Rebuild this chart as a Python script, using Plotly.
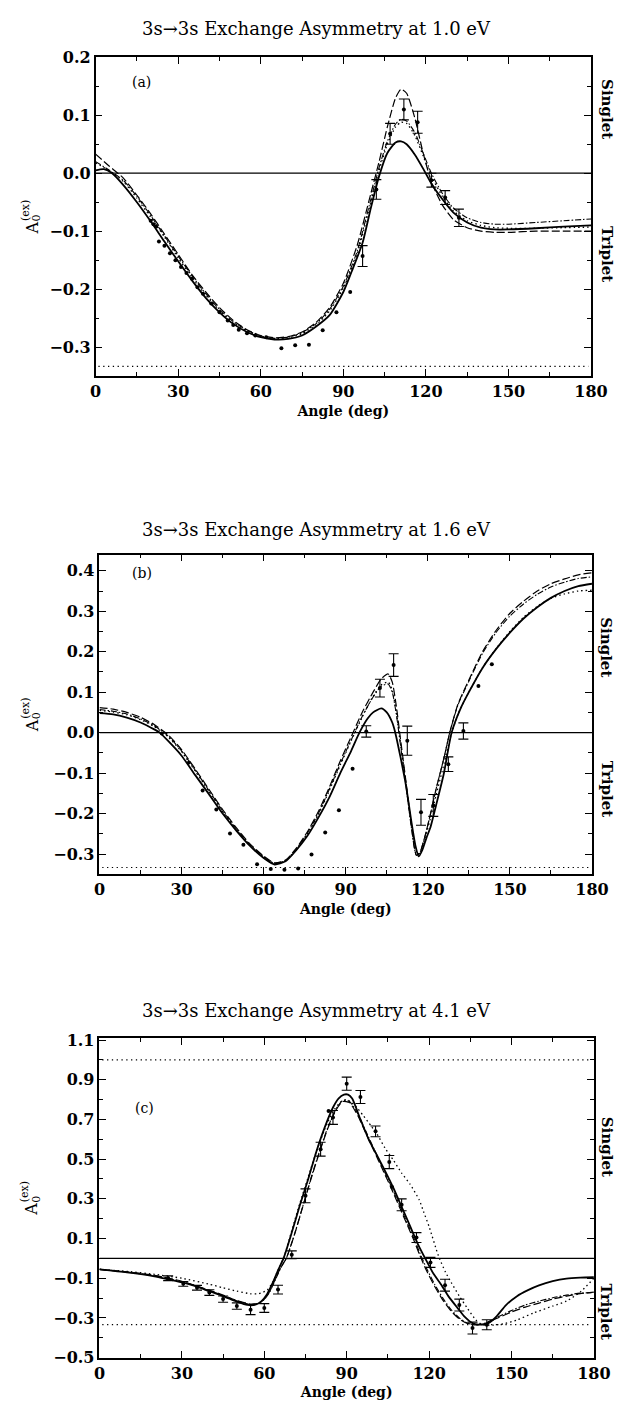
import plotly.graph_objects as go

W, H = 635, 1418
FONT = "DejaVu Serif"

# ---------------- Panel (a): 1.0 eV ----------------
a_solid_x = [0, 3, 6, 10, 15, 20, 25, 30, 35, 40, 45, 50, 55, 60, 65, 70, 75, 80, 85, 90, 93, 97, 100, 103, 106, 109, 111, 113, 116, 119, 122, 126, 130, 135, 140, 145, 150, 160, 170, 180]
a_solid_y = [0.005, 0.007, 0.0, -0.02, -0.05, -0.083, -0.118, -0.152, -0.185, -0.215, -0.24, -0.26, -0.274, -0.283, -0.287, -0.286, -0.28, -0.265, -0.245, -0.205, -0.17, -0.12, -0.06, -0.005, 0.035, 0.053, 0.055, 0.05, 0.032, 0.008, -0.018, -0.045, -0.068, -0.085, -0.094, -0.097, -0.097, -0.095, -0.092, -0.09]
a_dash_x = [0, 5, 10, 15, 20, 25, 30, 35, 40, 45, 50, 55, 60, 65, 70, 75, 80, 85, 90, 95, 100, 103, 106, 109, 111, 113, 116, 119, 122, 126, 130, 135, 140, 145, 150, 160, 170, 180]
a_dash_y = [0.033, 0.012, -0.008, -0.038, -0.07, -0.105, -0.14, -0.175, -0.205, -0.232, -0.254, -0.27, -0.28, -0.284, -0.282, -0.274, -0.258, -0.232, -0.19, -0.125, -0.035, 0.02, 0.08, 0.13, 0.145, 0.138, 0.095, 0.035, -0.015, -0.055, -0.08, -0.094, -0.1, -0.102, -0.102, -0.1, -0.1, -0.1]
a_dashdot_x = a_dash_x
a_dashdot_y = [0.02, 0.005, -0.012, -0.04, -0.073, -0.108, -0.143, -0.177, -0.208, -0.235, -0.256, -0.271, -0.281, -0.285, -0.283, -0.275, -0.26, -0.235, -0.195, -0.135, -0.045, 0.01, 0.055, 0.085, 0.093, 0.09, 0.07, 0.035, 0.0, -0.035, -0.06, -0.077, -0.085, -0.088, -0.088, -0.085, -0.082, -0.079]
a_dot_x = a_dash_x
a_dot_y = [0.018, 0.004, -0.014, -0.043, -0.076, -0.11, -0.146, -0.18, -0.21, -0.237, -0.258, -0.272, -0.282, -0.286, -0.284, -0.277, -0.262, -0.238, -0.198, -0.14, -0.05, 0.005, 0.05, 0.08, 0.088, 0.086, 0.065, 0.03, -0.005, -0.04, -0.065, -0.082, -0.09, -0.094, -0.095, -0.095, -0.094, -0.093]
a_pts_x = [20, 21, 22, 23, 25, 27, 29, 31, 33, 35, 37, 39, 42, 45, 48, 50, 52, 55, 58, 62, 67.5, 72.5, 77.5, 82.5, 87.5, 92.5]
a_pts_y = [-0.082, -0.088, -0.092, -0.118, -0.125, -0.138, -0.15, -0.162, -0.172, -0.182, -0.197, -0.208, -0.225, -0.24, -0.254, -0.262, -0.27, -0.276, -0.28, -0.283, -0.302, -0.297, -0.296, -0.271, -0.24, -0.205]
a_err_x = [97, 102, 107, 112, 117, 122, 127, 132]
a_err_y = [-0.143, -0.028, 0.068, 0.11, 0.088, -0.012, -0.042, -0.077]
a_err_e = [0.018, 0.017, 0.018, 0.018, 0.019, 0.012, 0.012, 0.015]

# ---------------- Panel (b): 1.6 eV ----------------
b_solid_x = [0, 5, 10, 15, 20, 22, 25, 30, 35, 40, 45, 50, 55, 60, 64, 68, 72, 76, 80, 84, 88, 92, 95, 98, 100, 103, 105, 107, 108, 110, 112, 114, 115.5, 116.7, 118, 119.5, 121, 123, 125.8, 128.7, 132, 135, 140, 145, 150, 155, 160, 165, 170, 175, 180]
b_solid_y = [0.048, 0.045, 0.037, 0.025, 0.008, 0.0, -0.02, -0.057, -0.105, -0.152, -0.2, -0.242, -0.28, -0.31, -0.326, -0.318, -0.29, -0.255, -0.21, -0.16, -0.1, -0.045, 0.0, 0.035, 0.05, 0.06, 0.05, 0.025, 0.003, -0.06, -0.13, -0.22, -0.28, -0.306, -0.29, -0.26, -0.233, -0.18, -0.103, 0.0, 0.06, 0.1, 0.16, 0.207, 0.247, 0.282, 0.31, 0.333, 0.35, 0.362, 0.368]
b_dash_x = [0, 5, 10, 15, 20, 25, 30, 35, 40, 45, 50, 55, 60, 64, 68, 72, 76, 80, 84, 88, 92, 96, 100, 103, 105.5, 107, 108.5, 110, 112, 114, 115.8, 117, 119, 121, 123, 126, 128, 131, 135, 140, 145, 150, 155, 160, 165, 170, 175, 180]
b_dash_y = [0.062, 0.058, 0.05, 0.038, 0.02, -0.005, -0.042, -0.09, -0.14, -0.19, -0.235, -0.275, -0.305, -0.322, -0.315, -0.285, -0.245, -0.195, -0.135, -0.07, -0.01, 0.05, 0.1, 0.133, 0.145, 0.125, 0.065, -0.015, -0.12, -0.23, -0.303, -0.298, -0.255, -0.2, -0.14, -0.06, 0.0, 0.07, 0.13, 0.2, 0.253, 0.295, 0.325, 0.35, 0.368, 0.38, 0.39, 0.395]
b_dashdot_x = b_dash_x
b_dashdot_y = [0.057, 0.053, 0.046, 0.034, 0.017, -0.008, -0.045, -0.093, -0.143, -0.193, -0.238, -0.277, -0.307, -0.323, -0.316, -0.287, -0.248, -0.2, -0.14, -0.077, -0.018, 0.04, 0.088, 0.115, 0.12, 0.1, 0.045, -0.03, -0.13, -0.235, -0.303, -0.298, -0.256, -0.2, -0.14, -0.06, 0.0, 0.068, 0.127, 0.196, 0.248, 0.288, 0.318, 0.342, 0.36, 0.372, 0.381, 0.385]
b_dot_x = b_dash_x
b_dot_y = [0.055, 0.051, 0.044, 0.032, 0.015, -0.01, -0.047, -0.095, -0.145, -0.195, -0.24, -0.278, -0.308, -0.324, -0.317, -0.289, -0.25, -0.203, -0.143, -0.08, -0.02, 0.038, 0.09, 0.118, 0.125, 0.105, 0.05, -0.025, -0.125, -0.23, -0.3, -0.298, -0.26, -0.21, -0.155, -0.075, -0.018, 0.045, 0.1, 0.16, 0.208, 0.25, 0.285, 0.312, 0.332, 0.343, 0.35, 0.352]
b_pts_x = [22.8, 32.7, 37.7, 42.7, 47.7, 52.6, 57.6, 62.6, 67.6, 72.6, 77.5, 82.5, 87.5, 92.5, 138.5, 143.4]
b_pts_y = [-0.002, -0.074, -0.143, -0.19, -0.249, -0.277, -0.325, -0.337, -0.339, -0.336, -0.301, -0.247, -0.192, -0.089, 0.115, 0.169]
b_err_x = [97.5, 102.5, 107.5, 112.5, 117.5, 122, 127.5, 133]
b_err_y = [0.003, 0.11, 0.167, -0.02, -0.197, -0.18, -0.078, 0.004]
b_err_e = [0.014, 0.022, 0.028, 0.036, 0.032, 0.027, 0.018, 0.02]

# ---------------- Panel (c): 4.1 eV ----------------
c_solid_x = [0, 10, 20, 25, 30, 35, 40, 45, 50, 53, 55, 57, 59, 61, 63, 65, 67, 70, 73, 76, 79, 82, 85, 87, 89, 90.5, 92, 95, 98, 101, 104, 107, 110, 113, 116, 118.7, 121.5, 124.6, 127, 130.5, 133, 136, 138, 141, 144, 148, 152, 156, 160, 165, 170, 175, 180]
c_solid_y = [-0.055, -0.07, -0.09, -0.105, -0.12, -0.14, -0.165, -0.19, -0.218, -0.232, -0.236, -0.232, -0.215, -0.18, -0.125, -0.06, 0.0, 0.13, 0.27, 0.4, 0.54, 0.66, 0.76, 0.805, 0.825, 0.825, 0.805, 0.7, 0.6, 0.52, 0.44, 0.355, 0.26, 0.165, 0.07, -0.003, -0.075, -0.136, -0.19, -0.252, -0.295, -0.328, -0.333, -0.33, -0.3, -0.235, -0.19, -0.16, -0.136, -0.115, -0.102, -0.097, -0.095]
c_dash_x = [0, 10, 20, 30, 40, 45, 50, 55, 58, 60, 62, 64, 66, 68, 71, 74, 77, 80, 83, 86, 88.5, 91, 94, 97, 100, 103, 106, 109, 112, 114.5, 116.5, 119, 122, 125, 128, 131, 134, 137, 140, 145, 150, 155, 160, 165, 170, 175, 180]
c_dash_y = [-0.055, -0.068, -0.085, -0.115, -0.16, -0.185, -0.212, -0.23, -0.225, -0.205, -0.165, -0.105, -0.045, 0.0, 0.12, 0.26, 0.4, 0.53, 0.65, 0.745, 0.79, 0.785, 0.72, 0.63, 0.54, 0.45, 0.36, 0.265, 0.17, 0.09, 0.02, -0.06, -0.14, -0.21, -0.265, -0.305, -0.328, -0.335, -0.33, -0.3, -0.27, -0.245, -0.225, -0.205, -0.19, -0.177, -0.17]
c_dashdot_x = c_dash_x
c_dashdot_y = [-0.055, -0.069, -0.087, -0.117, -0.162, -0.187, -0.214, -0.232, -0.226, -0.207, -0.168, -0.108, -0.048, 0.0, 0.122, 0.262, 0.405, 0.535, 0.655, 0.75, 0.795, 0.79, 0.73, 0.64, 0.55, 0.46, 0.37, 0.275, 0.18, 0.1, 0.032, -0.048, -0.13, -0.2, -0.258, -0.3, -0.326, -0.334, -0.328, -0.295, -0.262, -0.235, -0.215, -0.198, -0.185, -0.175, -0.172]
c_dot_x = [0, 10, 20, 30, 40, 45, 50, 55, 58, 61, 63, 65, 67, 70, 73, 76, 79, 82, 85, 88, 90, 93, 96, 99, 101, 104, 107, 110, 113, 116.4, 118, 120, 123.4, 126, 128, 131, 134, 137, 139.3, 143, 147, 152, 158, 165, 170, 175, 180]
c_dot_y = [-0.055, -0.065, -0.08, -0.1, -0.13, -0.148, -0.165, -0.178, -0.178, -0.16, -0.12, -0.06, 0.0, 0.14, 0.28, 0.41, 0.54, 0.65, 0.74, 0.79, 0.8, 0.77, 0.72, 0.665, 0.627, 0.555, 0.495, 0.43, 0.375, 0.295, 0.235, 0.16, 0.013, -0.07, -0.12, -0.19, -0.252, -0.31, -0.334, -0.336, -0.33, -0.31, -0.275, -0.24, -0.215, -0.17, -0.1]
c_err_x = [25, 30.5, 35.5, 40, 45, 50, 55, 60, 65, 70, 75, 80.5, 85, 90, 95, 100.5, 105.5, 110, 115.4, 120.5, 125.8, 131, 135.8, 141]
c_err_y = [-0.1, -0.128, -0.148, -0.172, -0.205, -0.24, -0.258, -0.25, -0.157, 0.018, 0.315, 0.55, 0.71, 0.88, 0.813, 0.64, 0.485, 0.27, 0.105, -0.02, -0.135, -0.235, -0.351, -0.334]
c_err_e = [0.012, 0.012, 0.012, 0.014, 0.016, 0.016, 0.025, 0.022, 0.022, 0.02, 0.035, 0.035, 0.035, 0.033, 0.033, 0.027, 0.033, 0.03, 0.025, 0.025, 0.03, 0.03, 0.03, 0.025]
c_pts_x = [83.4, 106.5]
c_pts_y = [0.743, 0.36]

# reference levels
zero_level = [0.0, 0.0]
triplet_limit = [-1 / 3, -1 / 3]
singlet_limit = [1.0, 1.0]
full_x = [0, 180]
limit_x = [1, 179]

titles = ["3s\u21923s Exchange Asymmetry at 1.0 eV",
          "3s\u21923s Exchange Asymmetry at 1.6 eV",
          "3s\u21923s Exchange Asymmetry at 4.1 eV"]
panel_labels = ["(a)", "(b)", "(c)"]

# ---------------- layout geometry (pixels) ----------------
panels = [
    dict(x0=93, x1=607, y0=49, y1=372, rng=[-0.35, 0.2], dt=0.1, t0=-0.3, mdt=0.05, title_y=20,
         singlet=0.11, triplet=-0.14),
    dict(x0=97, x1=608, y0=553, y1=877, rng=[-0.35, 0.44], dt=0.1, t0=-0.3, mdt=0.05, title_y=528,
         singlet=0.21, triplet=-0.14),
    dict(x0=97, x1=610, y0=1043, y1=1367, rng=[-0.5, 1.11], dt=0.2, t0=-0.5, mdt=0.1, title_y=1015,
         singlet=0.56, triplet=-0.27),
]


def px(x):
    return x / W


def py(y):
    return 1 - y / H


fig = go.Figure()

LINE_STYLES = {
    "solid": dict(color="black", width=1.8, dash="solid"),
    "dash": dict(color="black", width=1.2, dash="8px,3px"),
    "dashdot": dict(color="black", width=1.1, dash="6px,2px,1.5px,2px"),
    "dot": dict(color="black", width=1.3, dash="1.5px,3px"),
}

curves = [
    [(a_solid_x, a_solid_y, "solid"), (a_dash_x, a_dash_y, "dash"), (a_dashdot_x, a_dashdot_y, "dashdot"), (a_dot_x, a_dot_y, "dot")],
    [(b_solid_x, b_solid_y, "solid"), (b_dash_x, b_dash_y, "dash"), (b_dashdot_x, b_dashdot_y, "dashdot"), (b_dot_x, b_dot_y, "dot")],
    [(c_solid_x, c_solid_y, "solid"), (c_dash_x, c_dash_y, "dash"), (c_dashdot_x, c_dashdot_y, "dashdot"), (c_dot_x, c_dot_y, "dot")],
]
points = [(a_pts_x, a_pts_y), (b_pts_x, b_pts_y), (c_pts_x, c_pts_y)]
errpoints = [(a_err_x, a_err_y, a_err_e), (b_err_x, b_err_y, b_err_e), (c_err_x, c_err_y, c_err_e)]

for i in range(3):
    sfx = "" if i == 0 else str(i + 1)
    xa, ya = "x" + sfx, "y" + sfx
    fig.add_trace(go.Scatter(x=full_x, y=zero_level, mode="lines", line=dict(color="black", width=1.2),
                             xaxis=xa, yaxis=ya, showlegend=False, hoverinfo="skip"))
    fig.add_trace(go.Scatter(x=limit_x, y=triplet_limit, mode="lines", line=dict(color="black", width=1.1, dash="1.3px,3.5px"),
                             xaxis=xa, yaxis=ya, showlegend=False, hoverinfo="skip"))
    if i == 2:
        fig.add_trace(go.Scatter(x=limit_x, y=singlet_limit, mode="lines", line=dict(color="black", width=1.1, dash="1.3px,3.5px"),
                                 xaxis=xa, yaxis=ya, showlegend=False, hoverinfo="skip"))
    for cx, cy, st in curves[i]:
        fig.add_trace(go.Scatter(x=cx, y=cy, mode="lines", line=dict(shape="spline", smoothing=0.6, **LINE_STYLES[st]),
                                 xaxis=xa, yaxis=ya, showlegend=False))
    ptx, pty = points[i]
    fig.add_trace(go.Scatter(x=ptx, y=pty, mode="markers", marker=dict(color="black", size=4),
                             xaxis=xa, yaxis=ya, showlegend=False))
    ex, ey, ee = errpoints[i]
    fig.add_trace(go.Scatter(x=ex, y=ey, mode="markers", marker=dict(color="black", size=4),
                             error_y=dict(type="data", array=ee, visible=True, color="black", thickness=1.1, width=5),
                             xaxis=xa, yaxis=ya, showlegend=False))

tickfont = dict(family=FONT, size=16, color="black", weight="bold")
layout = dict(width=W, height=H, margin=dict(l=0, r=0, t=0, b=0), paper_bgcolor="white", plot_bgcolor="white",
              showlegend=False)
annotations = []


def note(text, x, y, size, angle=0, weight="normal", xref="paper", yref="paper"):
    annotations.append(dict(text=text, x=x, y=y, xref=xref, yref=yref, textangle=angle, showarrow=False,
                            font=dict(family=FONT, size=size, color="black", weight=weight),
                            xanchor="center", yanchor="middle"))


for i, p in enumerate(panels):
    sfx = "" if i == 0 else str(i + 1)
    layout["xaxis" + sfx] = dict(
        domain=[px(p["x0"]), px(p["x1"])], range=[0, 180], tick0=0, dtick=30, ticks="inside", ticklen=7,
        tickwidth=1.2, tickcolor="black", showline=True, linecolor="black", linewidth=1.6, mirror="allticks",
        showgrid=False, zeroline=False, tickfont=tickfont, anchor="y" + sfx,
        minor=dict(dtick=15, ticks="inside", ticklen=4, tickcolor="black", tickwidth=1),
        title=dict(text="Angle (deg)", standoff=6, font=dict(family=FONT, size=14, color="black", weight="bold")),
    )
    layout["yaxis" + sfx] = dict(
        domain=[py(p["y1"]), py(p["y0"])], range=p["rng"], tick0=p["t0"], dtick=p["dt"], tickformat=".1f",
        ticks="inside", ticklen=7, tickwidth=1.2, tickcolor="black", showline=True, linecolor="black",
        linewidth=1.6, mirror="allticks", showgrid=False, zeroline=False, tickfont=tickfont, anchor="x" + sfx,
        minor=dict(dtick=p["mdt"], ticks="inside", ticklen=4, tickcolor="black", tickwidth=1),
    )
    note(titles[i], px(322), py(p["title_y"]), 18)
    # y-axis label A_0^(ex): rotated, with subscript and superscript stacked as in the original
    yc = (p["y0"] + p["y1"]) / 2
    note("A", px(27), py(yc + 12), 16, angle=-90)
    note("(ex)", px(20), py(yc - 6), 11, angle=-90)
    note("0", px(32), py(yc + 1), 11, angle=-90)
    note("Singlet", px(623), p["singlet"], 15, angle=90, weight="bold", yref="y" + sfx)
    note("Triplet", px(623), p["triplet"], 15, angle=90, weight="bold", yref="y" + sfx)

label_pos = [(16.5, 0.157), (15.6, 0.395), (16.3, 0.76)]
for i, (lx, ly) in enumerate(label_pos):
    sfx = "" if i == 0 else str(i + 1)
    note(panel_labels[i], lx, ly, 14, xref="x" + sfx, yref="y" + sfx)

layout["annotations"] = annotations
fig.update_layout(**layout)
fig.write_html("out.html", config={"displayModeBar": False})
